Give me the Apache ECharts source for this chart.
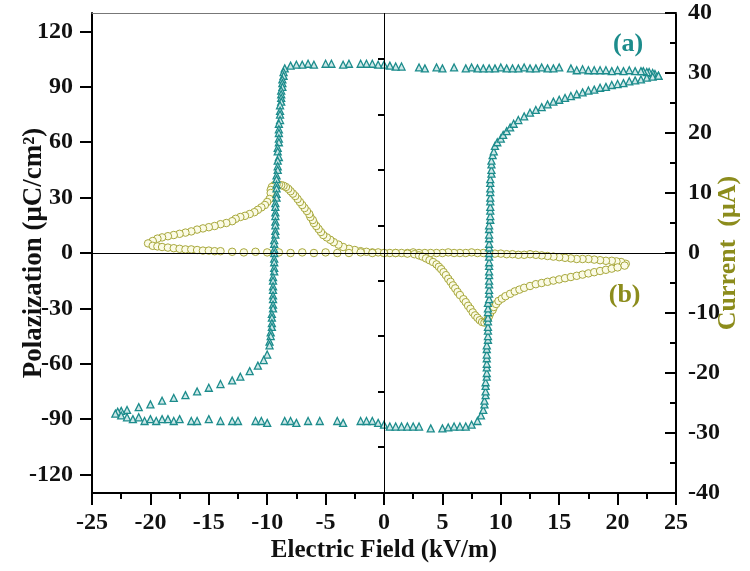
<!DOCTYPE html>
<html>
<head>
<meta charset="utf-8">
<script src="https://cdn.jsdelivr.net/npm/echarts@6/dist/echarts.min.js"></script>
<style>html,body{margin:0;padding:0;background:#fff}#c{width:750px;height:571px}</style>
</head>
<body>
<div id="c"></div>
<script>
// ---- Data ----
// Loop (a): [electric field kV/m, polarization μC/cm²]
const loopA_top = [[23.5,96],[23.2,97],[23.0,97.5],[22.7,98],[22.5,98],[22.2,98.5],[22.0,98.5],[21.5,98.5],[21.0,99],[20.5,98.5],[20.0,99],[19.5,98.5],[19.0,99],[18.5,99],[18.0,99],[17.5,99],[17.0,99.5],[16.5,99],[16.0,100],[15.0,100.5],[14.5,100],[14.0,100],[13.5,100.5],[13.0,100],[12.5,100],[12.0,100.5],[11.5,100],[11.0,100],[10.5,100],[10.0,100.5],[9.5,100],[9.0,100],[8.5,100],[8.0,100],[7.5,100.5],[7.0,100],[6.0,100.5],[5.0,100],[4.5,100.5],[3.5,100],[3.0,100.5],[1.5,101],[1.0,101],[0.5,101.5],[0.0,102],[-0.5,102],[-1.0,102.5],[-1.5,102.5],[-2.0,102.5],[-3.0,102.5],[-3.5,102],[-4.5,102.5],[-5.0,102.5],[-6.0,102],[-6.5,102.5],[-7.0,102],[-7.5,102],[-8.0,101.5],[-8.5,100]];
const loopA_leftDrop = [[-8.6,98],[-8.6,96],[-8.7,94],[-8.7,92],[-8.7,90],[-8.8,88],[-8.8,86],[-8.8,84],[-8.8,82],[-8.9,80],[-8.9,77],[-8.9,75],[-8.9,72],[-9.0,70],[-9.0,67],[-9.0,65],[-9.0,62],[-9.0,60],[-9.1,57],[-9.1,55],[-9.0,52],[-9.1,50],[-9.1,47],[-9.1,45],[-9.2,42],[-9.2,40],[-9.2,37],[-9.2,35],[-9.2,32],[-9.2,30],[-9.3,27],[-9.3,25],[-9.3,22],[-9.3,20],[-9.3,17],[-9.3,15],[-9.3,12],[-9.3,10],[-9.4,7],[-9.4,5],[-9.4,2],[-9.4,0],[-9.4,-3],[-9.4,-5],[-9.4,-8],[-9.4,-10],[-9.5,-13],[-9.5,-15],[-9.5,-18],[-9.5,-20],[-9.5,-23],[-9.5,-25],[-9.5,-28],[-9.5,-30],[-9.6,-33],[-9.6,-35],[-9.6,-38],[-9.6,-40],[-9.7,-43],[-9.7,-45],[-9.8,-48],[-9.8,-50],[-10.0,-55],[-10.3,-58],[-10.8,-61],[-11.5,-64],[-12.3,-67],[-13.0,-69],[-14.0,-71],[-15.0,-73],[-16.0,-75],[-17.0,-77],[-18.0,-78.5],[-19.0,-80],[-20.0,-82],[-21.0,-83.5],[-22.0,-85],[-22.5,-85.5],[-22.8,-86],[-23.0,-87]];
const loopA_bottom = [[-22.5,-88],[-22.0,-89],[-21.5,-90],[-21.0,-89],[-20.5,-91],[-20.0,-90],[-19.5,-91],[-19.0,-90],[-18.5,-90],[-18.0,-91],[-17.5,-90],[-16.5,-91],[-16.0,-91],[-15.0,-90],[-14.0,-91],[-13.0,-91],[-12.5,-91],[-11.0,-91],[-10.5,-91],[-10.0,-92],[-8.5,-91],[-8.0,-91],[-7.5,-92],[-6.5,-91],[-5.5,-91],[-4.0,-91],[-3.5,-92],[-2.0,-91],[-1.5,-91],[-1.0,-91],[-0.5,-92],[0.0,-93],[0.5,-94],[1.0,-94],[1.5,-94],[2.0,-94],[2.5,-94],[3.0,-94],[4.0,-95],[5.0,-95],[5.5,-94.5],[6.0,-94],[6.5,-94],[7.0,-94],[7.5,-93],[8.0,-91]];
const loopA_rightRise = [[8.3,-88],[8.5,-85],[8.6,-82],[8.6,-80],[8.7,-77],[8.7,-75],[8.7,-72],[8.7,-70],[8.8,-67],[8.8,-65],[8.8,-62],[8.8,-60],[8.8,-57],[8.8,-55],[8.8,-52],[8.8,-50],[8.9,-47],[8.9,-45],[8.9,-42],[8.9,-40],[8.9,-37],[8.9,-35],[8.9,-32],[8.9,-30],[8.9,-27],[9.0,-25],[9.0,-22],[9.0,-20],[9.0,-17],[9.0,-15],[9.0,-12],[9.0,-10],[9.0,-7],[9.0,-5],[9.0,-2],[9.0,0],[9.0,3],[9.0,5],[9.0,8],[9.0,10],[9.0,13],[9.0,15],[9.1,18],[9.1,20],[9.1,23],[9.1,25],[9.1,28],[9.1,30],[9.1,33],[9.1,35],[9.1,38],[9.1,40],[9.2,43],[9.2,45],[9.2,48],[9.2,50],[9.3,53],[9.4,55],[9.5,58],[9.7,60],[10.0,62],[10.2,64],[10.5,66],[10.8,68],[11.1,70],[11.5,72],[12.0,74],[12.5,76],[13.0,77.5],[13.5,79],[14.0,80.5],[14.5,82],[15.0,83],[15.5,84],[16.0,85],[16.5,86],[17.0,87],[17.5,88],[18.0,88.5],[18.5,89.5],[19.0,90],[19.5,91],[20.0,91.5],[20.5,92],[21.0,93],[21.5,93.5],[22.0,94],[22.5,95],[23.0,95.5],[23.5,96]];

// Loop (b): [electric field kV/m, current μA]
const loopB_down = [[20.7,-1.8],[20.3,-1.5],[19.9,-1.4],[19.5,-1.3],[19.0,-1.3],[18.5,-1.2],[18.0,-1.1],[17.5,-1.0],[17.0,-1.0],[16.5,-1.0],[16.0,-0.9],[15.5,-0.8],[15.0,-0.7],[14.5,-0.6],[14.0,-0.5],[13.5,-0.4],[13.0,-0.3],[12.5,-0.2],[12.0,-0.3],[11.5,-0.3],[11.0,-0.2],[10.5,-0.2],[10.0,-0.1],[9.5,-0.1],[9.0,0],[8.5,0],[8.0,0],[7.5,0.1],[7.0,0],[6.5,0],[6.0,0],[5.5,0.1],[5.0,0],[4.5,0],[4.0,0],[3.5,0],[3.0,0],[2.5,0.1],[2.0,0],[1.5,0],[1.0,0],[0.5,0],[0.0,0],[-0.5,0.1],[-1.0,0.1],[-1.5,0.2],[-2.0,0.3],[-2.5,0.5],[-3.0,0.7],[-3.5,1.0],[-3.9,1.4],[-4.3,1.8],[-4.6,2.2],[-4.9,2.6],[-5.2,3.0],[-5.4,3.5],[-5.6,4.0],[-5.8,4.5],[-6.0,5.0],[-6.1,5.5],[-6.3,6.0],[-6.4,6.5],[-6.6,7.0],[-6.8,7.5],[-7.0,8.0],[-7.2,8.5],[-7.4,9.0],[-7.6,9.5],[-7.8,9.9],[-8.0,10.3],[-8.2,10.7],[-8.4,11.0],[-8.6,11.2],[-8.8,11.3],[-9.0,11.4],[-9.2,11.4],[-9.4,11.3],[-9.6,11.0],[-9.7,10.5],[-9.7,10.0],[-9.8,9.0],[-10.0,8.5],[-10.2,8.0],[-10.5,7.6],[-10.8,7.2],[-11.1,6.8],[-11.5,6.5],[-11.9,6.2],[-12.3,6.0],[-12.7,5.7],[-13.0,5.3],[-13.5,5.0],[-14.0,4.8],[-14.5,4.5],[-15.0,4.3],[-15.5,4.1],[-16.0,3.9],[-16.5,3.6],[-17.0,3.4],[-17.5,3.2],[-18.0,3.0],[-18.5,2.8],[-19.0,2.6],[-19.4,2.4],[-19.8,2.0],[-20.2,1.6]];
const loopB_up = [[-19.8,1.2],[-19.4,1.1],[-19.0,1.0],[-18.5,0.9],[-18.0,0.8],[-17.5,0.7],[-17.0,0.6],[-16.5,0.6],[-16.0,0.5],[-15.5,0.4],[-15.0,0.4],[-14.5,0.3],[-14.0,0.3],[-13.0,0.2],[-12.0,0.1],[-11.0,0.2],[-10.0,0.1],[-9.0,0.1],[-8.0,0],[-7.0,0.1],[-6.0,0],[-5.0,0.1],[-4.0,0],[-3.0,0],[-2.0,0.1],[-1.0,0],[0.0,0],[1.0,0],[2.0,-0.1],[2.6,-0.2],[3.0,-0.4],[3.3,-0.6],[3.6,-0.9],[3.9,-1.2],[4.2,-1.5],[4.5,-1.9],[4.7,-2.3],[4.9,-2.7],[5.1,-3.2],[5.3,-3.7],[5.5,-4.3],[5.7,-4.8],[5.9,-5.4],[6.1,-5.9],[6.3,-6.5],[6.5,-7.0],[6.8,-7.7],[7.0,-8.2],[7.2,-8.8],[7.4,-9.3],[7.6,-9.9],[7.8,-10.4],[8.0,-10.8],[8.2,-11.2],[8.4,-11.5],[8.6,-11.6],[8.8,-11.3],[8.9,-11.0],[9.0,-10.5],[9.1,-10.0],[9.3,-9.5],[9.4,-9.0],[9.6,-8.5],[9.8,-8.0],[10.1,-7.6],[10.4,-7.2],[10.8,-6.8],[11.2,-6.4],[11.6,-6.1],[12.0,-5.8],[12.5,-5.5],[13.0,-5.2],[13.5,-5.0],[14.0,-4.8],[14.5,-4.6],[15.0,-4.4],[15.5,-4.2],[16.0,-4.0],[16.5,-3.8],[17.0,-3.6],[17.5,-3.4],[18.0,-3.2],[18.5,-3.0],[19.0,-2.8],[19.5,-2.6],[20.0,-2.4],[20.6,-2.1]];

// Axis ticks
const xTicks = {min: -25, max: 25, step: 5};
const polMajorTicks = [-120,-90,-60,-30,0,30,60,90,120];
const polMinorTicks = [-105,-75,-45,-15,15,45,75,105];
const polRange = [-130, 130];
const curTicks = {min: -40, max: 40, step: 10};

// Curve labels (data coordinates)
const labelA = {text: '(a)', E: 20.9, v: 113};
const labelB = {text: '(b)', E: 20.6, v: -7};

const teal = '#1c8c8c';
const olive = '#8c8c1c';
const FONT = '"Liberation Serif", "Times New Roman", serif';

const dataA = [].concat(loopA_top, loopA_leftDrop, loopA_bottom, loopA_rightRise);
const dataB = [].concat(loopB_down, loopB_up);

const chart = echarts.init(document.getElementById('c'), null, {renderer: 'canvas'});
const tickLabel = {fontFamily: FONT, fontWeight: 'bold', fontSize: 24, color: '#111'};

chart.setOption({
  animation: false,
  backgroundColor: '#fff',
  grid: {left: 92, right: 74, top: 13, bottom: 78, containLabel: false, outerBoundsMode: 'none'},
  xAxis: [{
    type: 'value', position: 'bottom', min: xTicks.min, max: xTicks.max, interval: xTicks.step,
    name: 'Electric Field (kV/m)', nameLocation: 'middle', nameGap: 45, nameMoveOverlap: false,
    nameTextStyle: {fontFamily: FONT, fontWeight: 'bold', fontSize: 25, color: '#111'},
    axisLine: {show: true, onZero: false, lineStyle: {color: '#000', width: 2}},
    axisTick: {show: true, inside: false, length: 12, lineStyle: {color: '#000', width: 2}},
    minorTick: {show: true, splitNumber: 2, length: 6, lineStyle: {color: '#000', width: 2}},
    axisLabel: Object.assign({margin: 18}, tickLabel),
    splitLine: {show: false}
  }, {
    type: 'value', position: 'top', min: xTicks.min, max: xTicks.max,
    axisLine: {show: true, onZero: false, lineStyle: {color: '#777', width: 1}},
    axisTick: {show: false}, axisLabel: {show: false}, splitLine: {show: false}
  }],
  yAxis: [{
    type: 'value', position: 'left', min: polRange[0], max: polRange[1],
    name: 'Polazization (μC/cm²)', nameLocation: 'middle', nameGap: 44, nameMoveOverlap: false,
    nameTextStyle: {fontFamily: FONT, fontWeight: 'bold', fontSize: 27, color: '#111'},
    axisLine: {show: true, onZero: false, lineStyle: {color: '#000', width: 2}},
    axisTick: {show: true, inside: false, length: 12, customValues: polMajorTicks, lineStyle: {color: '#000', width: 2}},
    axisLabel: Object.assign({margin: 19, customValues: polMajorTicks}, tickLabel),
    splitLine: {show: false}
  }, {
    type: 'value', position: 'right', min: curTicks.min, max: curTicks.max, interval: curTicks.step,
    name: 'Current  (μA)', nameLocation: 'middle', nameGap: 39, nameMoveOverlap: false,
    nameTextStyle: {fontFamily: FONT, fontWeight: 'bold', fontSize: 26, color: olive},
    axisLine: {show: true, onZero: false, lineStyle: {color: '#000', width: 2}},
    axisTick: {show: true, inside: true, length: 11, lineStyle: {color: '#000', width: 2}},
    minorTick: {show: true, splitNumber: 2, length: 6, lineStyle: {color: '#000', width: 2}},
    axisLabel: Object.assign({margin: 12}, tickLabel),
    splitLine: {show: false}
  }, {
    type: 'value', position: 'left', min: polRange[0], max: polRange[1],
    axisLine: {show: false},
    axisTick: {show: true, inside: false, length: 6, customValues: polMinorTicks, lineStyle: {color: '#000', width: 2}},
    axisLabel: {show: false}, splitLine: {show: false}
  }],
  series: [{
    type: 'scatter', name: 'b', xAxisIndex: 0, yAxisIndex: 1, data: dataB,
    symbol: 'circle', symbolSize: 7.5,
    itemStyle: {color: '#fbfbe6', borderColor: '#a8a83c', borderWidth: 1, opacity: 1},
    markLine: {
      silent: true, symbol: 'none', label: {show: false},
      lineStyle: {color: '#000', width: 1, type: 'solid'},
      data: [{xAxis: 0}, {yAxis: 0}]
    },
    z: 2
  }, {
    type: 'scatter', name: 'a', xAxisIndex: 0, yAxisIndex: 0, data: dataA,
    symbol: 'triangle', symbolSize: 7,
    itemStyle: {color: '#cfe8e8', borderColor: teal, borderWidth: 1.3, opacity: 1},
    z: 3
  }]
});

const pA = chart.convertToPixel({xAxisIndex: 0, yAxisIndex: 0}, [labelA.E, labelA.v]);
const pB = chart.convertToPixel({xAxisIndex: 0, yAxisIndex: 1}, [labelB.E, labelB.v]);
chart.setOption({
  graphic: [
    {type: 'text', x: pA[0], y: pA[1], z: 10, style: {text: labelA.text, fill: teal, font: 'bold 26px ' + FONT, align: 'center', verticalAlign: 'middle'}},
    {type: 'text', x: pB[0], y: pB[1], z: 10, style: {text: labelB.text, fill: olive, font: 'bold 26px ' + FONT, align: 'center', verticalAlign: 'middle'}}
  ]
});
</script>
</body>
</html>
